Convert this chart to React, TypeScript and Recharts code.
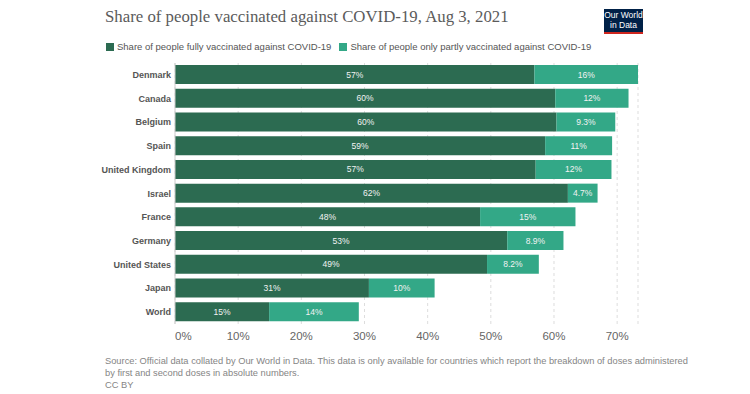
import { BarChart, Bar, XAxis, YAxis, CartesianGrid, LabelList, ReferenceLine } from 'recharts';

const countries = ['Denmark', 'Canada', 'Belgium', 'Spain', 'United Kingdom', 'Israel', 'France', 'Germany', 'United States', 'Japan', 'World'];
const fullyVaccinated = [56.9, 60.2, 60.4, 58.6, 57.1, 62.2, 48.3, 52.6, 49.4, 30.7, 14.9];
const partlyVaccinated = [16.4, 11.6, 9.3, 10.6, 12.0, 4.7, 15.1, 8.9, 8.2, 10.4, 14.2];
const xTicks = [0, 10, 20, 30, 40, 50, 60, 70];

const FULL_COLOR = '#2c6b51';
const PARTLY_COLOR = '#33a887';
const SANS = '"Liberation Sans", Arial, sans-serif';

const data = countries.map((name, i) => ({
    name,
    fully: fullyVaccinated[i],
    partly: partlyVaccinated[i],
}));

const formatPct = (v: any) => {
    const n = Number(v);
    return n >= 10 ? `${Math.round(n)}%` : `${n.toFixed(1)}%`;
};

function CountryTick({ x, y, payload }: any) {
    return (
        <text x={x + 4} y={y} dy={3} textAnchor="end" fontSize={9} fontWeight={700} fill="#555" fontFamily={SANS}>
            {payload.value}
        </text>
    );
}

function PctTick({ x, y, payload, index }: any) {
    return (
        <text x={x} y={y} dy="0.71em" textAnchor={index === 0 ? 'start' : 'middle'} fontSize={11.5} fill="#666" fontFamily={SANS}>
            {payload.value}%
        </text>
    );
}

export default function App() {
    return (
        <div style={{ position: 'absolute', left: 0, top: 0, width: 750, height: 394, background: '#fff', fontFamily: SANS }}>
            <div style={{ position: 'absolute', left: 105, top: 7, fontFamily: '"Liberation Serif", Georgia, serif', fontSize: 16.8, color: '#5b5b5b', whiteSpace: 'nowrap' }}>
                Share of people vaccinated against COVID-19, Aug 3, 2021
            </div>
            <div style={{ position: 'absolute', left: 604, top: 9, width: 39, height: 22, background: '#002147', borderBottom: '2px solid #ce261e', color: '#fff', fontSize: 8.5, lineHeight: '10px', textAlign: 'center', paddingTop: 1 }}>
                Our World<br />in Data
            </div>
            <div style={{ position: 'absolute', left: 106, top: 41, fontSize: 9.5, color: '#555', whiteSpace: 'nowrap', display: 'flex', alignItems: 'center' }}>
                <span style={{ display: 'inline-block', width: 8, height: 8, background: FULL_COLOR, marginRight: 3 }} />
                <span>Share of people fully vaccinated against COVID-19</span>
                <span style={{ display: 'inline-block', width: 8, height: 8, background: PARTLY_COLOR, marginLeft: 8, marginRight: 3 }} />
                <span>Share of people only partly vaccinated against COVID-19</span>
            </div>

            <div style={{ position: 'absolute', left: 0, top: 0 }}>
                <BarChart
                    width={750}
                    height={394}
                    data={data}
                    layout="vertical"
                    margin={{ top: 63, right: 112, left: 8, bottom: 40 }}
                    barSize={19}
                >
                    <CartesianGrid horizontal={false} strokeDasharray="3 3" stroke="#ddd" />
                    <XAxis
                        type="number"
                        domain={[0, 'dataMax']}
                        ticks={xTicks}
                        tick={<PctTick />}
                        axisLine={false}
                        tickLine={false}
                        height={30}
                    />
                    <YAxis
                        type="category"
                        dataKey="name"
                        width={167}
                        tick={<CountryTick />}
                        axisLine={false}
                        tickLine={false}
                        interval={0}
                    />
                    <ReferenceLine x={0} stroke="#ccc" />
                    <Bar dataKey="fully" stackId="a" fill={FULL_COLOR} isAnimationActive={false}>
                        <LabelList dataKey="fully" position="center" fill="#f2f2f2" fontSize={8.5} fontFamily={SANS} formatter={formatPct} />
                    </Bar>
                    <Bar dataKey="partly" stackId="a" fill={PARTLY_COLOR} isAnimationActive={false}>
                        <LabelList dataKey="partly" position="center" fill="#f2f2f2" fontSize={8.5} fontFamily={SANS} formatter={formatPct} />
                    </Bar>
                </BarChart>
            </div>

            <div style={{ position: 'absolute', left: 105, top: 355, fontSize: 9.3, lineHeight: '12px', color: '#858585', whiteSpace: 'nowrap' }}>
                Source: Official data collated by Our World in Data. This data is only available for countries which report the breakdown of doses administered
                <br />
                by first and second doses in absolute numbers.
                <br />
                CC BY
            </div>
        </div>
    );
}
